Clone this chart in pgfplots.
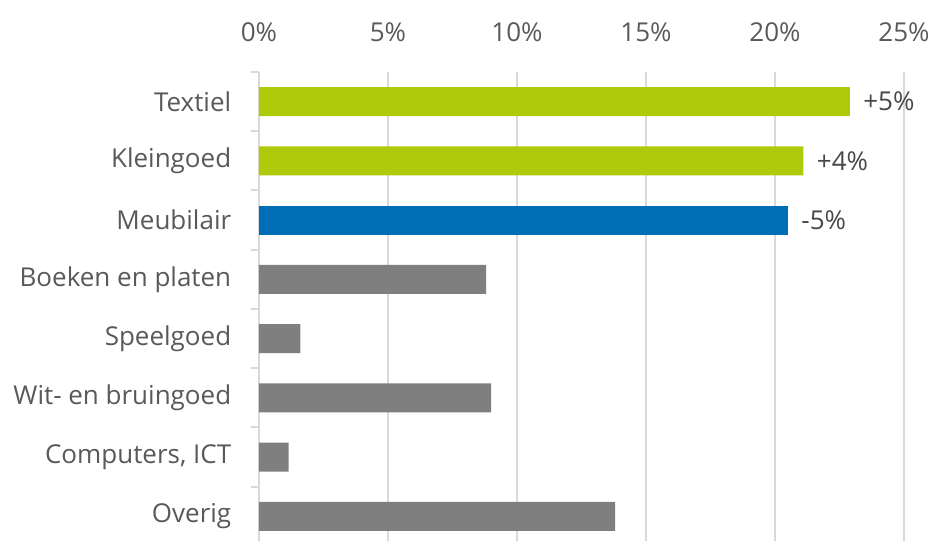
\documentclass[border=0pt]{standalone}
\usepackage{pgfplots}
\pgfplotsset{compat=1.18}
\usepackage{fontspec}
\setmainfont{Open Sans}
\definecolor{lime}{HTML}{AFCA0B}
\definecolor{blauw}{HTML}{006EB6}
\definecolor{grijs}{HTML}{7F7F7F}
\definecolor{lijn}{HTML}{D9D9D9}
\definecolor{tekst}{HTML}{595959}
\begin{document}
\begin{tikzpicture}
\begin{axis}[
    name=ax,
    scale only axis,
    width=645pt, height=469pt,
    xmin=0, xmax=25,
    ymin=-0.416, ymax=7.5,
    axis x line*=top,
    axis y line*=left,
    x axis line style={draw=none},
    y axis line style={draw=lijn, line width=2pt},
    xtick={0,5,10,15,20,25},
    xticklabels={0\%,5\%,10\%,15\%,20\%,25\%},
    xmajorgrids,
    major x grid style={draw=lijn, line width=2pt},
    major x tick style={draw=none},
    ytick={0,...,7},
    yticklabels={Overig,{Computers, ICT},Wit- en bruingoed,Speelgoed,Boeken en platen,Meubilair,Kleingoed,Textiel},
    major y tick style={draw=none},
    minor ytick={0.5,1.5,...,7.5},
    minor y tick style={draw=lijn, line width=2pt},
    minor tick length=8pt,
    tick align=outside,
    ticklabel style={font=\fontsize{26}{30}\selectfont, text=tekst},
    yticklabel style={xshift=-20pt},
    xticklabel style={yshift=22pt},
    xbar, bar shift=0pt, bar width=29pt,
    nodes near coords,
    point meta=explicit symbolic,
    every node near coord/.append style={anchor=west, xshift=10pt,
        font=\fontsize{26}{30}\selectfont, text=tekst!80!black},
    clip=false,
]
\addplot[fill=lime, draw=none] coordinates {(22.9,7) [+5\%] (21.1,6) [+4\%]};
\addplot[fill=blauw, draw=none] coordinates {(20.5,5) [-5\%]};
\addplot[fill=grijs, draw=none, nodes near coords={}] coordinates {
    (8.8,4) [] (1.6,3) [] (9.0,2) [] (1.15,1) [] (13.8,0) []};
\end{axis}
\pgfresetboundingbox
\path[use as bounding box] (ax.south west) ++(-259pt,0) rectangle ++(936pt,541pt);
\end{tikzpicture}
\end{document}
